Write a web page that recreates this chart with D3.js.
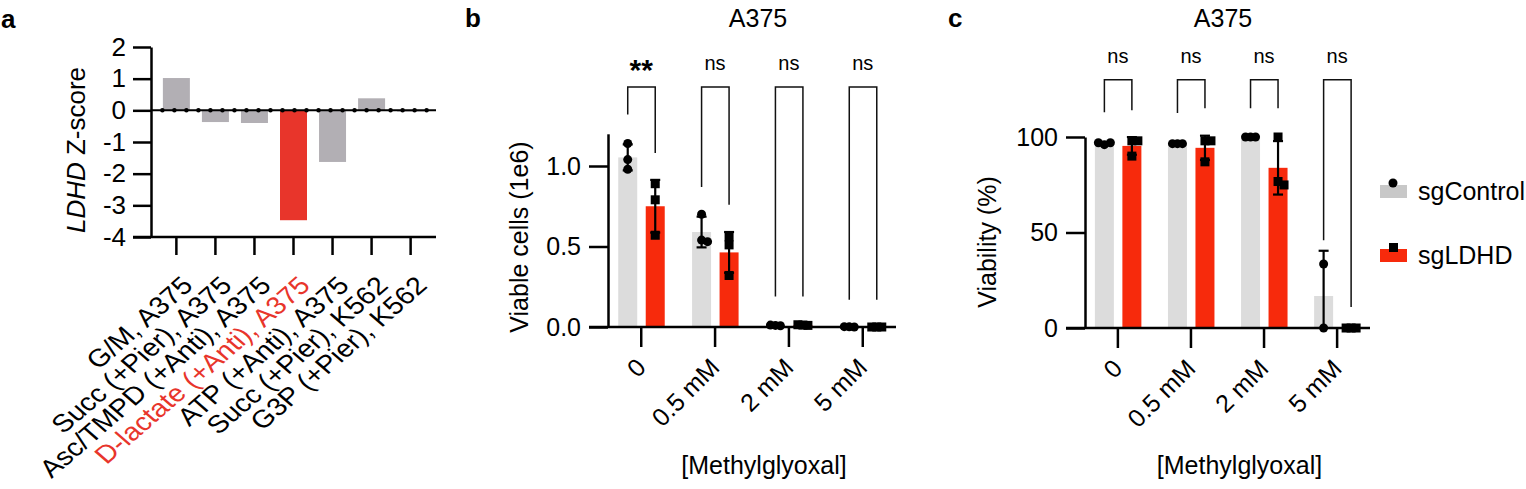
<!DOCTYPE html>
<html><head><meta charset="utf-8">
<script src="https://cdn.jsdelivr.net/npm/d3@7"></script>
<style>
body{margin:0;background:#fff}
svg text{font-family:"Liberation Sans",Arial,Helvetica,sans-serif;fill:#000}
</style></head><body>
<svg id="fig" width="1526" height="489"></svg>
<script>
// ---------- Panel a data ----------
const catsA = ["G/M, A375","Succ (+Pier), A375","Asc/TMPD (+Anti), A375","D-lactate (+Anti), A375","ATP (+Anti), A375","Succ (+Pier), K562","G3P (+Pier), K562"];
const zScoreA = [1.02, -0.37, -0.40, -3.47, -1.63, 0.38, -0.04];
const highlightA = "D-lactate (+Anti), A375";
const yTicksA = [-4,-3,-2,-1,0,1,2];

// ---------- Panels b, c shared ----------
const groups = ["0","0.5 mM","2 mM","5 mM"];
const seriesNames = ["sgControl","sgLDHD"];

// ---------- Panel b data (viable cells, 1e6) ----------
const bCtrl = [[1.14,1.04,0.98],[0.70,0.54,0.53],[0.012,0.010,0.008],[0.002,0.001,0.0]];
const bLdhd = [[0.89,0.79,0.57],[0.56,0.51,0.32],[0.014,0.012,0.010],[0.0,0.0,0.0]];
const bYTicks = [0,0.5,1.0];
const bSig = ["**","ns","ns","ns"];
const bBracketTop = 1.49;
const bBracketLeft = [1.32,0.87,0.19,0.17];
const bBracketRight = [1.08,0.76,0.19,0.17];
const bSigY = 1.596;

// ---------- Panel c data (viability, %) ----------
const cCtrl = [[96,97,97],[96.5,96.5,96.5],[100,100,100],[33.5,0]];
const cLdhd = [[98,98,90],[98,98,87],[100,76.7,74.9],[0,0,0]];
const cYTicks = [0,50,100];
const cSig = ["ns","ns","ns","ns"];
const cBracketTop = 130;
const cBracketLeft = [113,112.6,115,46];
const cBracketRight = [114,115,115,11];
const cSigY = 138.7;

// ---------- styles ----------
const GRAY_A = "#b2afb4", RED_A = "#e8352b";
const GRAY = "#dcdcdc", RED = "#f72a0c";
const AXW = 2.5;
const svg = d3.select("#fig");

function styleAxis(g, fs){
  g.select(".domain").attr("stroke","#000").attr("stroke-width",AXW);
  g.selectAll(".tick line").attr("stroke","#000").attr("stroke-width",AXW);
  g.selectAll(".tick text").attr("font-size",fs).attr("fill","#000");
}

// ================= Panel a =================
(function(){
  const g = svg.append("g");
  const x = d3.scalePoint().domain(catsA).range([151,436]).padding(0.65);
  const y = d3.scaleLinear().domain([-4,2]).range([237,47]);
  const bw = 27;
  g.selectAll("rect.bar").data(catsA).join("rect")
    .attr("x", d => x(d) - bw/2)
    .attr("width", bw)
    .attr("y", (d,i) => y(Math.max(0, zScoreA[i])))
    .attr("height", (d,i) => Math.abs(y(zScoreA[i]) - y(0)))
    .attr("fill", d => d === highlightA ? RED_A : GRAY_A);
  // zero line with dots
  g.append("line").attr("x1", 151).attr("x2", 436).attr("y1", y(0)).attr("y2", y(0))
    .attr("stroke","#000").attr("stroke-width",2);
  const dx1 = x(catsA[0]) - 14, dx2 = x(catsA[catsA.length-1]) + 16;
  g.append("line").attr("x1", dx1).attr("x2", dx2).attr("y1", y(0)).attr("y2", y(0))
    .attr("stroke","#000").attr("stroke-width",4.5).attr("stroke-linecap","round")
    .attr("stroke-dasharray", `0 ${(dx2-dx1)/22}`);
  // y axis
  const ya = g.append("g").attr("transform","translate(151,0)")
    .call(d3.axisLeft(y).tickValues(yTicksA).tickFormat(d => String(d)).tickSize(18).tickPadding(7).tickSizeOuter(0));
  styleAxis(ya, 26);
  // x axis
  g.append("line").attr("x1",133).attr("x2",436).attr("y1",y(-4)).attr("y2",y(-4))
    .attr("stroke","#000").attr("stroke-width",AXW);
  g.selectAll("line.xt").data(catsA).join("line").attr("class","xt")
    .attr("x1", d => x(d)).attr("x2", d => x(d)).attr("y1", y(-4)).attr("y2", y(-4)+18)
    .attr("stroke","#000").attr("stroke-width",AXW);
  g.selectAll("text.xl").data(catsA).join("text").attr("class","xl")
    .attr("transform", d => `translate(${x(d)+18},287) scale(1.15,1) rotate(-45)`)
    .attr("text-anchor","end").attr("font-size",25)
    .style("fill", d => d === highlightA ? RED_A : "#000")
    .text(d => d);
  // y label
  const yl = g.append("text").attr("transform","translate(85,150) rotate(-90)")
    .attr("text-anchor","middle").attr("font-size",26);
  yl.append("tspan").attr("font-style","italic").text("LDHD");
  yl.append("tspan").text(" Z-score");
  g.append("text").attr("x",1).attr("y",28).attr("font-size",26).attr("font-weight","bold").text("a");
})();

// ================= Panels b, c =================
function drawPanel(o){
  const g = svg.append("g");
  const x = d3.scalePoint().domain(groups).range([o.x0, o.x1]).padding(0.45);
  const y = d3.scaleLinear().domain([0, o.yMax]).range([o.yBottom, o.yTop]);
  const offs = [-13.5, 14], bw = 19;
  const series = [o.ctrl, o.ldhd];
  const colors = [GRAY, RED];
  const marker = (si, cx, cy) => {
    if (si === 0) g.append("circle").attr("cx", cx).attr("cy", cy).attr("r", 4.5).attr("fill","#000");
    else g.append("rect").attr("x", cx - 4.5).attr("y", cy - 4.5).attr("width", 9).attr("height", 9).attr("fill","#000");
  };
  series.forEach((s, si) => {
    const stats = s.map(p => ({m: d3.mean(p), sd: d3.deviation(p) || 0}));
    g.selectAll(`rect.bar${si}`).data(groups).join("rect").attr("class",`bar${si}`)
      .attr("x", d => x(d) + offs[si] - bw/2).attr("width", bw)
      .attr("y", (d,i) => y(stats[i].m)).attr("height", (d,i) => y(0) - y(stats[i].m))
      .attr("fill", colors[si]);
    groups.forEach((gr, i) => {
      const cx = x(gr) + offs[si];
      const lo = Math.max(0, stats[i].m - stats[i].sd), hi = stats[i].m + stats[i].sd;
      if (y(lo) - y(hi) >= 1) {
        g.append("line").attr("x1",cx).attr("x2",cx).attr("y1",y(lo)).attr("y2",y(hi))
          .attr("stroke","#000").attr("stroke-width",2.2);
        [hi, lo].forEach(v => {
          if (v === 0) return;
          g.append("line").attr("x1",cx-5).attr("x2",cx+5).attr("y1",y(v)).attr("y2",y(v))
            .attr("stroke","#000").attr("stroke-width",2.2);
        });
        const placed = [];
        s[i].forEach(v => {
          const py = y(v);
          let dx = 0;
          for (const cand of [0, 6, -6, 12, -12]) {
            if (!placed.some(p => Math.abs(p.dx - cand) < 6 && Math.abs(p.py - py) < 8)) { dx = cand; break; }
          }
          placed.push({dx, py});
          marker(si, cx + dx, py);
        });
      } else {
        s[i].forEach((v, k) => marker(si, cx + [-5, 0, 5][k % 3], y(v)));
      }
    });
  });
  // y axis
  const ya = g.append("g").attr("transform",`translate(${o.x0},0)`)
    .call(d3.axisLeft(y).tickValues(o.ticks).tickFormat(o.fmt).tickSize(19).tickPadding(8).tickSizeOuter(0));
  styleAxis(ya, 25);
  // x axis
  g.append("line").attr("x1", o.x0 - 19).attr("x2", o.x1).attr("y1", y(0)).attr("y2", y(0))
    .attr("stroke","#000").attr("stroke-width",AXW);
  g.selectAll("line.xt").data(groups).join("line").attr("class","xt")
    .attr("x1", d => x(d)).attr("x2", d => x(d)).attr("y1", y(0)).attr("y2", y(0) + 20)
    .attr("stroke","#000").attr("stroke-width",AXW);
  g.selectAll("text.xl").data(groups).join("text").attr("class","xl")
    .attr("transform", d => `translate(${x(d)+6},${y(0)+42}) rotate(-45)`)
    .attr("text-anchor","end").attr("font-size",25).text(d => d);
  // brackets
  groups.forEach((gr, i) => {
    const xl = x(gr) + offs[0], xr = x(gr) + offs[1];
    g.append("path")
      .attr("d", `M${xl},${y(o.bL[i])}V${y(o.bTop)}H${xr}V${y(o.bR[i])}`)
      .attr("fill","none").attr("stroke","#111").attr("stroke-width",1.5);
    const t = g.append("text").attr("x", x(gr)).attr("text-anchor","middle").text(o.sig[i]);
    if (o.sig[i].includes("*")) t.attr("y", y(o.sigY) + 10).attr("font-size",30).attr("font-weight","bold");
    else t.attr("y", y(o.sigY)).attr("font-size",20);
  });
  g.append("text").attr("x", o.titleX).attr("y", 27).attr("text-anchor","middle").attr("font-size",25).text("A375");
  g.append("text").attr("x", (o.x0 + o.x1)/2 + 12).attr("y", 474).attr("text-anchor","middle").attr("font-size",25).text("[Methylglyoxal]");
  g.append("text").attr("transform", `translate(${o.ylabX},${o.ylabY}) rotate(-90)`).attr("text-anchor","middle").attr("font-size",25).text(o.ylab);
  g.append("text").attr("x", o.letterX).attr("y", 27).attr("font-size",26).attr("font-weight","bold").text(o.letter);
}

drawPanel({ctrl:bCtrl, ldhd:bLdhd, x0:608, x1:896, yMax:1.2, yBottom:327, yTop:133.8,
  ticks:bYTicks, fmt:d3.format(".1f"), sig:bSig, bTop:bBracketTop, bL:bBracketLeft, bR:bBracketRight, sigY:bSigY,
  titleX:758, ylab:"Viable cells (1e6)", ylabX:528, ylabY:237, letter:"b", letterX:465});

drawPanel({ctrl:cCtrl, ldhd:cLdhd, x0:1085, x1:1370, yMax:100, yBottom:328, yTop:137,
  ticks:cYTicks, fmt:d3.format("d"), sig:cSig, bTop:cBracketTop, bL:cBracketLeft, bR:cBracketRight, sigY:cSigY,
  titleX:1223, ylab:"Viability (%)", ylabX:996, ylabY:242, letter:"c", letterX:948});

// legend
const leg = svg.append("g");
const legY = [190, 254];
seriesNames.forEach((nm, i) => {
  leg.append("rect").attr("x",1380).attr("y",legY[i]-5).attr("width",27).attr("height",13)
    .attr("fill", i === 0 ? "#c8c8c8" : RED);
  if (i === 0) leg.append("circle").attr("cx",1393).attr("cy",legY[i]-7).attr("r",4.5).attr("fill","#000");
  else leg.append("rect").attr("x",1389).attr("y",legY[i]-11).attr("width",9).attr("height",9).attr("fill","#000");
  leg.append("text").attr("x",1418).attr("y",legY[i]+10).attr("font-size",25).text(nm);
});
</script>
</body></html>
